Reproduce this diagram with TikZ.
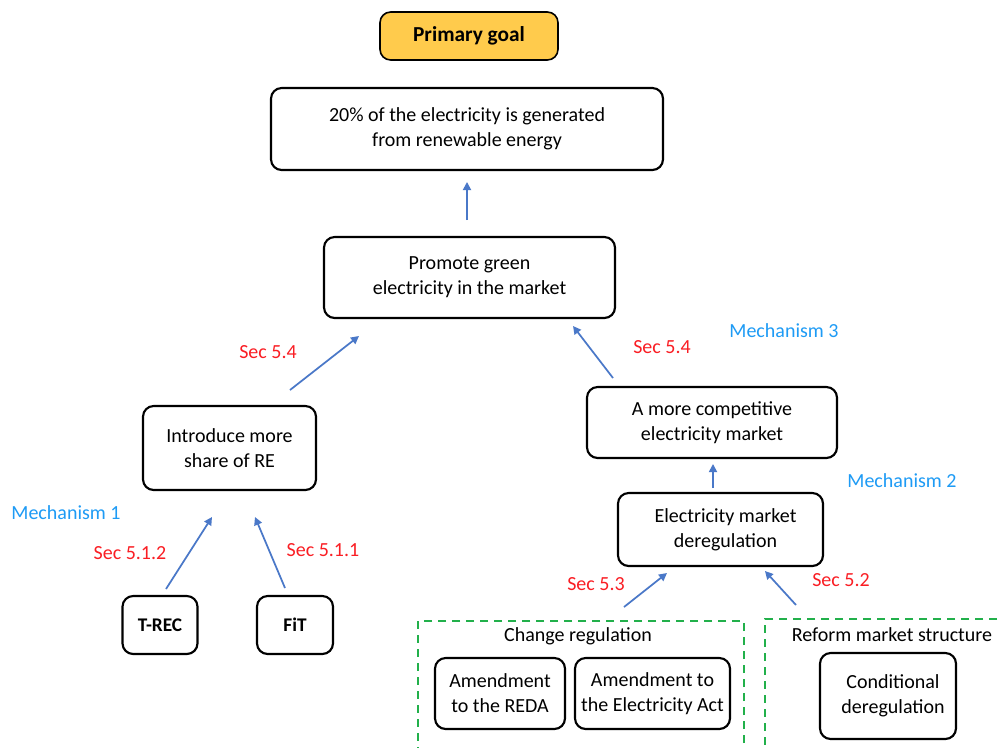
\documentclass[tikz,border=0pt]{standalone}
\usepackage{fontspec}
\setmainfont{Carlito}
\usetikzlibrary{arrows.meta}
\definecolor{goalfill}{HTML}{FFCB4C}
\definecolor{arrowblue}{HTML}{4A78C8}
\definecolor{mechblue}{HTML}{1E9BF5}
\definecolor{secred}{HTML}{FA1E24}
\definecolor{dashgreen}{HTML}{22B04B}
\tikzset{
  box/.style={draw=black, line width=1.6pt, rounded corners=8pt, align=center, inner sep=0pt,
    font=\fontsize{15}{18.7}\selectfont},
  goalbox/.style={box, fill=goalfill, line width=1.2pt, font=\fontsize{16}{18}\selectfont\bfseries},
  leafbox/.style={box, font=\fontsize{14.5}{18}\selectfont\bfseries},
  group/.style={draw=dashgreen, line width=1.6pt, dash pattern=on 6pt off 4.5pt, inner sep=0pt},
  grouptitle/.style={font=\fontsize{15}{18}\selectfont},
  conn/.style={draw=arrowblue, line width=1.3pt, -{Triangle[length=6pt,width=6pt]}},
  sec/.style={text=secred, font=\fontsize{15}{18}\selectfont},
  mech/.style={text=mechblue, font=\fontsize{15}{18}\selectfont},
}
\begin{document}
\begin{tikzpicture}[x=0.75pt,y=-0.75pt]
\clip (0,0) rectangle (1003,747);
\fill[white] (0,0) rectangle (1003,747);
% nodes
\node[goalbox, minimum width=178*0.75pt, minimum height=48*0.75pt] (goal) at (469,36) {Primary goal};
\node[box, minimum width=392*0.75pt, minimum height=82*0.75pt] (target) at (467,129) {20\% of the electricity is generated\\from renewable energy};
\node[box, minimum width=291*0.75pt, minimum height=81*0.75pt] (promote) at (469.5,277.5) {Promote green\\electricity in the market};
\node[box, minimum width=173*0.75pt, minimum height=84*0.75pt] (introduce) at (229.5,448) {Introduce more\\share of RE};
\node[box, minimum width=250*0.75pt, minimum height=71*0.75pt] (compet) at (712,422.5) {A more competitive\\electricity market};
\node[box, minimum width=205*0.75pt, minimum height=73*0.75pt] (dereg) at (720.5,529.5) {\hspace*{7.5pt}Electricity market\\\hspace*{7.5pt}deregulation};
\node[leafbox, minimum width=75*0.75pt, minimum height=58*0.75pt] (trec) at (160,625) {T-REC};
\node[leafbox, minimum width=76*0.75pt, minimum height=58*0.75pt] (fit) at (295,625) {FiT};
% groups
\node[group, minimum width=326*0.75pt, minimum height=160*0.75pt, anchor=north west] (grp1) at (417,620) {};
\node[group, minimum width=260*0.75pt, minimum height=160*0.75pt, anchor=north west] (grp2) at (764,618) {};
\node[grouptitle] (grp1t) at (578,636) {Change regulation};
\node[grouptitle] (grp2t) at (892,635) {Reform market structure};
\node[box, minimum width=130*0.75pt, minimum height=71*0.75pt] (reda) at (500,693.5) {Amendment\\to the REDA};
\node[box, minimum width=155*0.75pt, minimum height=71*0.75pt] (eact) at (652.5,693.5) {Amendment to\\the Electricity Act};
\node[box, minimum width=136*0.75pt, minimum height=86*0.75pt] (cond) at (888,696) {\hspace*{7.5pt}Conditional\\\hspace*{7.5pt}deregulation};
% arrow end coordinates
\coordinate (a1s) at (467,220); \coordinate (a1e) at (467,182);
\coordinate (a2s) at (290,390); \coordinate (a2e) at (359,336);
\coordinate (a3s) at (613,378); \coordinate (a3e) at (573,326);
\coordinate (a4s) at (713,488); \coordinate (a4e) at (713,464);
\coordinate (a5s) at (166,589); \coordinate (a5e) at (212,517);
\coordinate (a6s) at (285,588); \coordinate (a6e) at (255,517);
\coordinate (a7s) at (624,607); \coordinate (a7e) at (667,573);
\coordinate (a8s) at (796,605); \coordinate (a8e) at (765,571);
\draw[conn] (a1s) -- (a1e);
\draw[conn] (a2s) -- (a2e);
\draw[conn] (a3s) -- (a3e);
\draw[conn] (a4s) -- (a4e);
\draw[conn] (a5s) -- (a5e);
\draw[conn] (a6s) -- (a6e);
\draw[conn] (a7s) -- (a7e);
\draw[conn] (a8s) -- (a8e);
% labels
\node[sec] (s54a) at (268,352) {Sec 5.4};
\node[sec] (s54b) at (662,347) {Sec 5.4};
\node[sec] (s512) at (130,553) {Sec 5.1.2};
\node[sec] (s511) at (323,550) {Sec 5.1.1};
\node[sec] (s53) at (596,584) {Sec 5.3};
\node[sec] (s52) at (841,580) {Sec 5.2};
\node[mech] (m3) at (784,331) {Mechanism 3};
\node[mech] (m2) at (902,481) {Mechanism 2};
\node[mech] (m1) at (66,513) {Mechanism 1};
\end{tikzpicture}
\end{document}
